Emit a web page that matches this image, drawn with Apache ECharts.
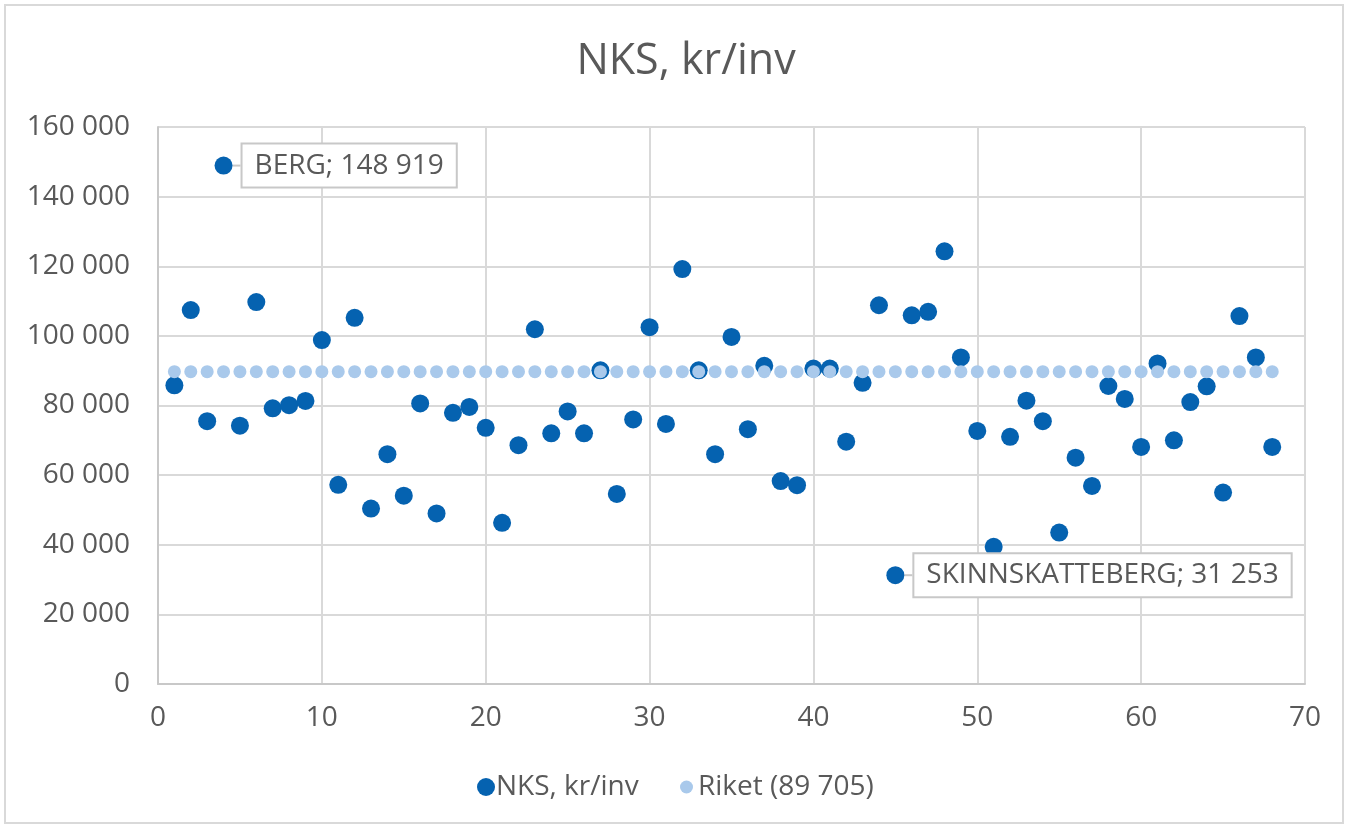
<!DOCTYPE html>
<html>
<head>
<meta charset="utf-8">
<title>NKS, kr/inv</title>
<script src="https://cdn.jsdelivr.net/npm/echarts@6/dist/echarts.min.js"></script>
<style>
  html, body { margin: 0; padding: 0; background: #ffffff; }
  #chart { width: 1348px; height: 828px; }
  .frame {
    position: absolute; left: 4px; top: 4px; width: 1336px; height: 816px;
    border: 2px solid #d9d9d9; pointer-events: none;
  }
</style>
</head>
<body>
<div id="chart"></div>
<div class="frame"></div>
<script>
// kommun nr (x) och NKS, kr/inv (y)
var kommunNr = [
  1, 2, 3, 4, 5, 6, 7, 8, 9, 10,
  11, 12, 13, 14, 15, 16, 17, 18, 19, 20,
  21, 22, 23, 24, 25, 26, 27, 28, 29, 30,
  31, 32, 33, 34, 35, 36, 37, 38, 39, 40,
  41, 42, 43, 44, 45, 46, 47, 48, 49, 50,
  51, 52, 53, 54, 55, 56, 57, 58, 59, 60,
  61, 62, 63, 64, 65, 66, 67, 68
];
var nksValues = [
  85800, 107400, 75500, 148919, 74200, 109700, 79200, 80100, 81300, 98800,
  57200, 105200, 50400, 66000, 54100, 80600, 49000, 77900, 79600, 73600,
  46300, 68600, 101900, 72000, 78300, 72000, 90100, 54600, 76000, 102500,
  74700, 119200, 90100, 66000, 99700, 73200, 91400, 58300, 57100, 90600,
  90600, 69600, 86500, 108800, 31253, 105900, 106900, 124300, 93800, 72700,
  39400, 71000, 81400, 75500, 43500, 65000, 56900, 85600, 81900, 68100,
  92100, 70000, 81000, 85500, 55000, 105700, 93800, 68100
];
var riket = 89705;
// punkter med etikett
var etiketter = { 4: "BERG", 45: "SKINNSKATTEBERG" };

var yTicks = [0, 20000, 40000, 60000, 80000, 100000, 120000, 140000, 160000];
var xTicks = [0, 10, 20, 30, 40, 50, 60, 70];

function fmt(n) {
  return String(n).replace(/\B(?=(\d{3})+(?!\d))/g, " ");
}

var textColor = "#595959";
var font = "'Open Sans', sans-serif";

var nksData = kommunNr.map(function (x, i) {
  var item = { value: [x, nksValues[i]] };
  if (etiketter[x]) {
    item.label = {
      show: true,
      position: "right",
      distance: 2,
      formatter: etiketter[x] + "; " + fmt(nksValues[i]),
      color: textColor,
      fontFamily: font,
      fontSize: 28,
      backgroundColor: "#ffffff",
      borderColor: "#c8c8c8",
      borderWidth: 2,
      padding: [7, 12, 7, 12]
    };
    item.labelLine = { show: true, lineStyle: { color: "#c8c8c8", width: 2 } };
  }
  return item;
});
var riketData = kommunNr.map(function (x) {
  return [x, riket];
});

var myChart = echarts.init(document.getElementById("chart"));
var option = {
  animation: false,
  title: {
    text: "NKS, kr/inv",
    left: 681,
    textAlign: "center",
    top: 35,
    textStyle: { color: textColor, fontFamily: font, fontSize: 43, fontWeight: "normal" }
  },
  legend: [
    {
      data: [{ name: "NKS, kr/inv", icon: "circle" }],
      left: 472,
      top: 768,
      itemWidth: 18,
      itemHeight: 18,
      itemGap: 0,
      textStyle: { color: textColor, fontFamily: font, fontSize: 28, padding: [0, 0, 0, -4] }
    },
    {
      data: [{ name: "Riket (89 705)", icon: "circle" }],
      left: 675,
      top: 768,
      itemWidth: 13,
      itemHeight: 13,
      itemGap: 0,
      textStyle: { color: textColor, fontFamily: font, fontSize: 28, padding: [0, 0, 0, 0] }
    }
  ],
  grid: { left: 158, right: 43, top: 127, bottom: 144, containLabel: false },
  xAxis: {
    type: "value",
    min: xTicks[0],
    max: xTicks[xTicks.length - 1],
    interval: 10,
    axisLine: { show: true, lineStyle: { color: "#c8c8c8", width: 2 } },
    axisTick: { show: false },
    axisLabel: { color: textColor, fontFamily: font, fontSize: 28, margin: 20 },
    splitLine: { show: true, lineStyle: { color: "#d9d9d9", width: 2 } }
  },
  yAxis: {
    type: "value",
    min: yTicks[0],
    max: yTicks[yTicks.length - 1],
    interval: 20000,
    axisLine: { show: true, lineStyle: { color: "#c8c8c8", width: 2 } },
    axisTick: { show: false },
    axisLabel: {
      color: textColor, fontFamily: font, fontSize: 28, margin: 28,
      formatter: function (v) { return fmt(v); }
    },
    splitLine: { show: true, lineStyle: { color: "#d9d9d9", width: 2 } }
  },
  series: [
    {
      name: "NKS, kr/inv",
      type: "scatter",
      symbol: "circle",
      symbolSize: 18,
      itemStyle: { color: "#0562b0", opacity: 1 },
      labelLayout: function (params) {
        return { dx: 8, dy: 0 };
      },
      data: nksData
    },
    {
      name: "Riket (89 705)",
      type: "scatter",
      symbol: "circle",
      symbolSize: 13,
      itemStyle: { color: "#a9c9eb", opacity: 1 },
      data: riketData
    }
  ]
};
option && myChart.setOption(option);
</script>
</body>
</html>
